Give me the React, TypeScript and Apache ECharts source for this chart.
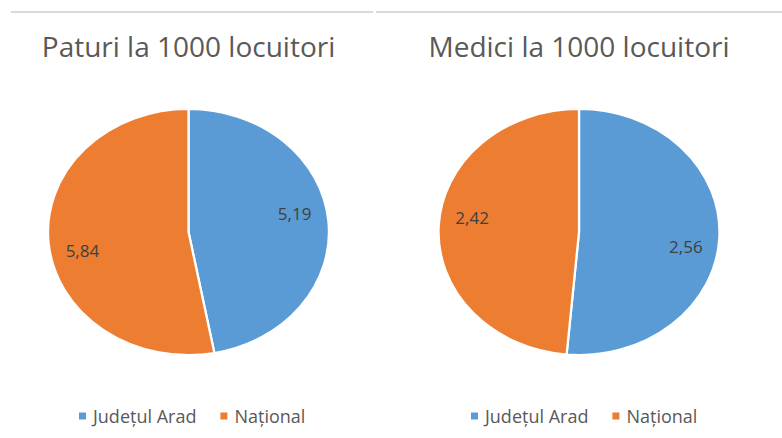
import React, { useEffect, useRef } from "react";
import * as echarts from "echarts";

const categories = ["Județul Arad", "Național"];
const chartTitles = ["Paturi la 1000 locuitori", "Medici la 1000 locuitori"];
const paturiValues = [5.19, 5.84];
const mediciValues = [2.56, 2.42];
const pieValues = [paturiValues, mediciValues];
const colors = ["#5b9bd5", "#ed7d31"];

// layout (not data)
const pieCenters = [
  [188.5, 232],
  [579, 232],
];
const RX = 140.5;
const RY = 123;
const LABEL_FRAC = 0.77;
const labelAngleOffsetDeg = [-6, 6.5];

const fmt = (v: number) => v.toFixed(2).replace(".", ",");

function makeSeries(pieIdx: number, catIdx: number) {
  return {
    type: "custom",
    name: categories[catIdx],
    coordinateSystem: "none",
    itemStyle: { color: colors[catIdx] },
    data: [[pieValues[pieIdx][catIdx]]],
    renderItem: (params: any, api: any) => {
      const vals = pieValues[pieIdx];
      const total = vals.reduce((a, b) => a + b, 0);
      let before = 0;
      for (let i = 0; i < catIdx; i++) before += vals[i];
      const v = api.value(0);
      const start = -Math.PI / 2 + (2 * Math.PI * before) / total;
      const end = start + (2 * Math.PI * v) / total;
      const mid = (start + end) / 2 + (labelAngleOffsetDeg[pieIdx] * Math.PI) / 180;
      const [cx, cy] = pieCenters[pieIdx];
      const lx = cx + Math.cos(mid) * RX * LABEL_FRAC;
      const ly = cy + Math.sin(mid) * RY * LABEL_FRAC;
      return {
        type: "group",
        children: [
          {
            type: "group",
            x: cx,
            y: cy,
            scaleX: RX / RY,
            children: [
              {
                type: "sector",
                shape: { cx: 0, cy: 0, r: RY, r0: 0, startAngle: start, endAngle: end, clockwise: true },
                style: { fill: colors[catIdx], stroke: "#ffffff", lineWidth: 2, strokeNoScale: true },
              },
            ],
          },
          {
            type: "text",
            x: lx,
            y: ly,
            style: {
              text: fmt(v),
              fill: "#404040",
              fontSize: 17,
              fontFamily: "Open Sans",
              align: "center",
              verticalAlign: "middle",
            },
          },
        ],
      };
    },
  };
}

export default function App() {
  const ref = useRef<HTMLDivElement>(null);
  useEffect(() => {
    if (!ref.current) return;
    const chart = echarts.init(ref.current, undefined, { renderer: "svg" });
    const series: any[] = [];
    for (let p = 0; p < pieValues.length; p++) {
      for (let c = 0; c < categories.length; c++) series.push(makeSeries(p, c));
    }
    chart.setOption({
      animation: false,
      backgroundColor: "#ffffff",
      title: chartTitles.map((t, i) => ({
        text: t,
        left: pieCenters[i][0],
        textAlign: "center",
        top: 30,
        padding: 0,
        textStyle: {
          fontFamily: "Open Sans",
          fontSize: 28,
          fontWeight: "normal",
          color: "#595959",
          lineHeight: 32,
        },
      })),
      legend: [79, 471].map((l) => ({
        data: categories,
        left: l,
        top: 404,
        padding: 0,
        icon: "rect",
        itemWidth: 7,
        itemHeight: 7,
        itemGap: 24,
        selectedMode: false,
        textStyle: {
          fontFamily: "Open Sans",
          fontSize: 18,
          color: "#595959",
          lineHeight: 24,
          padding: [0, 0, 0, 2],
        },
      })),
      graphic: [
        { type: "line", shape: { x1: 11, y1: 12, x2: 373, y2: 12 }, style: { stroke: "#d9d9d9", lineWidth: 2 } },
        { type: "line", shape: { x1: 376, y1: 12, x2: 782, y2: 12 }, style: { stroke: "#d9d9d9", lineWidth: 2 } },
      ],
      series,
    });
    return () => chart.dispose();
  }, []);
  return (
    <div
      ref={ref}
      style={{ position: "fixed", left: 0, top: 0, width: 782, height: 438 }}
    />
  );
}
